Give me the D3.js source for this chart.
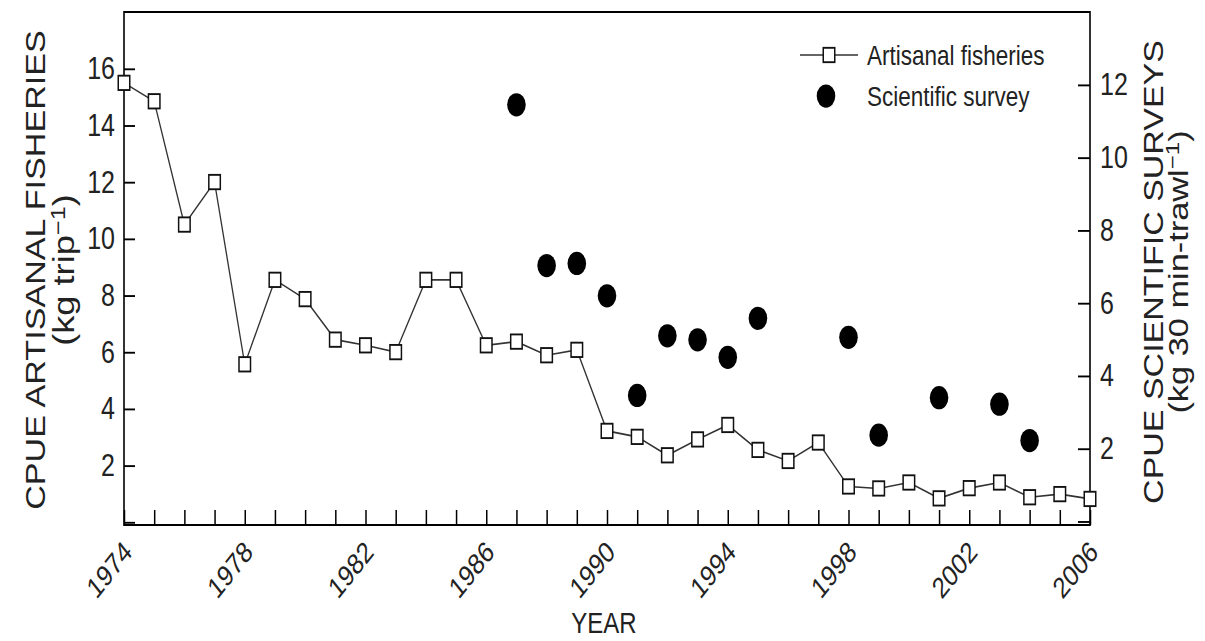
<!DOCTYPE html>
<html>
<head>
<meta charset="utf-8">
<script src="https://cdn.jsdelivr.net/npm/d3@7"></script>
<style>
  body { margin: 0; background: #fff; }
  svg { display: block; }
</style>
</head>
<body>
<div id="chart"></div>
<script>
// Artisanal fisheries CPUE (kg trip-1), left axis
const years = [1974, 1975, 1976, 1977, 1978, 1979, 1980, 1981, 1982, 1983, 1984,
  1985, 1986, 1987, 1988, 1989, 1990, 1991, 1992, 1993, 1994, 1995, 1996, 1997,
  1998, 1999, 2000, 2001, 2002, 2003, 2004, 2005, 2006];
const artisanal = [15.5, 14.85, 10.5, 12.0, 5.57, 8.55, 7.87, 6.44, 6.24, 6.0, 8.55,
  8.55, 6.24, 6.37, 5.89, 6.08, 3.22, 3.01, 2.36, 2.92, 3.43, 2.55, 2.16, 2.81,
  1.26, 1.19, 1.4, 0.84, 1.2, 1.4, 0.88, 0.99, 0.82];

// Scientific survey CPUE (kg 30 min-trawl-1), right axis
const surveyYears = [1987, 1988, 1989, 1990, 1991, 1992, 1993, 1994, 1995, 1998, 1999, 2001, 2003, 2004];
const survey = [11.45, 7.03, 7.09, 6.2, 3.46, 5.1, 4.99, 4.51, 5.58, 5.06, 2.37, 3.4, 3.22, 2.22];

const leftTicks = [0, 2, 4, 6, 8, 10, 12, 14, 16];
const rightTicks = [0, 2, 4, 6, 8, 10, 12];
const yearLabels = [1974, 1978, 1982, 1986, 1990, 1994, 1998, 2002, 2006];

const W = 1205, H = 641;
// the original figure is stretched vertically, so draw in a squashed space and scale it
const SY = 1.25;
const FONT = "'Liberation Sans', Arial, Helvetica, sans-serif";

const svg = d3.select("#chart").append("svg")
  .attr("width", W)
  .attr("height", H);

const g = svg.append("g").attr("transform", `scale(1,${SY})`)
  .style("font-family", FONT);

const plotTop = 12 / SY, plotBottom = 525 / SY;

const x = d3.scaleLinear().domain([1974, 2006]).range([124, 1090]);
const yL = d3.scaleLinear().domain([-0.1, 18]).range([plotBottom, plotTop]);
const yR = d3.scaleLinear().domain([-0.1, 14]).range([plotBottom, plotTop]);

// frame
g.append("rect")
  .attr("x", x.range()[0])
  .attr("y", plotTop)
  .attr("width", x.range()[1] - x.range()[0])
  .attr("height", plotBottom - plotTop)
  .attr("fill", "none")
  .attr("stroke", "#000")
  .attr("stroke-width", 1.6);

function styleAxis(a, size) {
  a.select(".domain").remove();
  a.attr("font-family", FONT).attr("font-size", size);
  a.selectAll(".tick line").attr("stroke", "#000").attr("stroke-width", 1.5);
  a.selectAll(".tick text").attr("fill", "#222");
}

// left axis
g.append("g")
  .attr("transform", `translate(${x.range()[0]},0)`)
  .call(d3.axisLeft(yL).tickValues(leftTicks).tickSize(-11).tickPadding(9)
    .tickFormat(d => d === 0 ? "" : d))
  .call(a => styleAxis(a, 25));

// right axis
g.append("g")
  .attr("transform", `translate(${x.range()[1]},0)`)
  .call(d3.axisRight(yR).tickValues(rightTicks).tickSize(-12).tickPadding(10)
    .tickFormat(d => d === 0 ? "" : d))
  .call(a => styleAxis(a, 25));

// bottom axis
g.append("g")
  .attr("transform", `translate(0,${plotBottom})`)
  .call(d3.axisBottom(x).tickValues(years).tickSize(-12)
    .tickFormat(d => yearLabels.includes(d) ? d : ""))
  .call(a => styleAxis(a, 23.5))
  .call(a => a.selectAll(".tick text")
    .attr("x", 0).attr("y", 0).attr("dy", 0)
    .attr("text-anchor", "end")
    .attr("transform", "translate(9,23) rotate(-45)"));

// artisanal line + squares
const line = d3.line()
  .x((d, i) => x(years[i]))
  .y(d => yL(d));

g.append("path")
  .datum(artisanal)
  .attr("d", line)
  .attr("fill", "none")
  .attr("stroke", "#333")
  .attr("stroke-width", 1.3);

const sq = 11.5;
g.selectAll("rect.art")
  .data(artisanal)
  .join("rect")
  .attr("class", "art")
  .attr("x", (d, i) => x(years[i]) - sq / 2)
  .attr("y", d => yL(d) - sq / 2)
  .attr("width", sq)
  .attr("height", sq)
  .attr("fill", "#fff")
  .attr("stroke", "#111")
  .attr("stroke-width", 1.5);

// survey dots
g.selectAll("circle.survey")
  .data(survey)
  .join("circle")
  .attr("class", "survey")
  .attr("cx", (d, i) => x(surveyYears[i]))
  .attr("cy", d => yR(d))
  .attr("r", 9.3)
  .attr("fill", "#000");

// legend
const leg = g.append("g").attr("font-size", 22.5).attr("fill", "#222");
leg.append("line")
  .attr("x1", 800).attr("x2", 858)
  .attr("y1", 55 / SY).attr("y2", 55 / SY)
  .attr("stroke", "#333").attr("stroke-width", 1.3);
leg.append("rect")
  .attr("x", 829 - sq / 2).attr("y", 55 / SY - sq / 2)
  .attr("width", sq).attr("height", sq)
  .attr("fill", "#fff").attr("stroke", "#111").attr("stroke-width", 1.5);
leg.append("text")
  .attr("x", 867).attr("y", 55 / SY).attr("dy", "0.35em")
  .text("Artisanal fisheries");
leg.append("circle")
  .attr("cx", 826).attr("cy", 96 / SY).attr("r", 9.3)
  .attr("fill", "#000");
leg.append("text")
  .attr("x", 867).attr("y", 96 / SY).attr("dy", "0.35em")
  .text("Scientific survey");

// axis titles
const midL = 270 / SY, midR = 272 / SY;

g.append("text")
  .attr("transform", `translate(45,${midL}) rotate(-90)`)
  .attr("text-anchor", "middle")
  .attr("font-size", 27.3)
  .attr("fill", "#222")
  .text("CPUE ARTISANAL FISHERIES");

const ls = g.append("text")
  .attr("transform", `translate(74,${midL}) rotate(-90)`)
  .attr("text-anchor", "middle")
  .attr("font-size", 29)
  .attr("fill", "#222");
ls.append("tspan").text("(kg trip");
ls.append("tspan").attr("dy", "-0.45em").attr("font-size", "0.7em").text("\u22121");
ls.append("tspan").attr("dy", "0.32em").text(")");

g.append("text")
  .attr("transform", `translate(1163,${midR}) rotate(-90)`)
  .attr("text-anchor", "middle")
  .attr("font-size", 27.2)
  .attr("fill", "#222")
  .text("CPUE SCIENTIFIC SURVEYS");

const rs = g.append("text")
  .attr("transform", `translate(1188,${midR}) rotate(-90)`)
  .attr("text-anchor", "middle")
  .attr("font-size", 27.5)
  .attr("fill", "#222");
rs.append("tspan").text("(kg 30 min-trawl");
rs.append("tspan").attr("dy", "-0.45em").attr("font-size", "0.7em").text("\u22121");
rs.append("tspan").attr("dy", "0.32em").text(")");

g.append("text")
  .attr("x", 604)
  .attr("y", 633 / SY)
  .attr("text-anchor", "middle")
  .attr("font-size", 24)
  .attr("fill", "#222")
  .text("YEAR");
</script>
</body>
</html>
